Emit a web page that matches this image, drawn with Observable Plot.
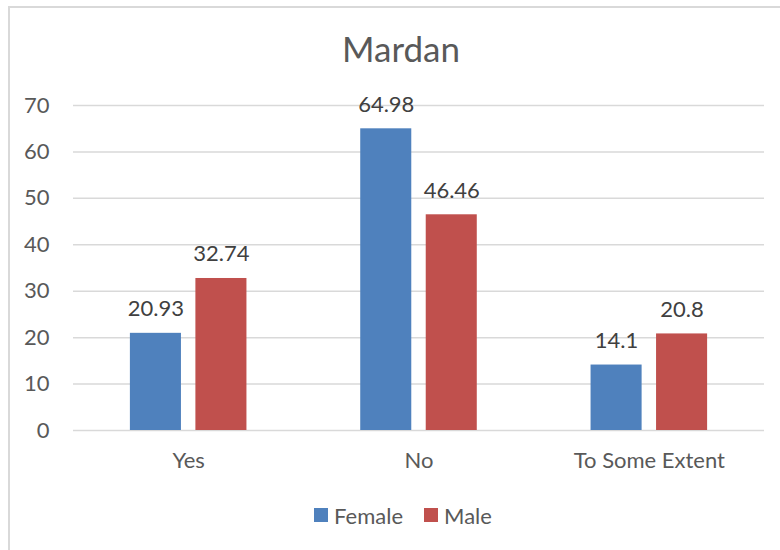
<!DOCTYPE html>
<html><head><meta charset="utf-8">
<script src="https://cdn.jsdelivr.net/npm/d3@7"></script>
<script src="https://cdn.jsdelivr.net/npm/@observablehq/plot@0.6"></script>
<style>
html,body{margin:0;padding:0;background:#fff;overflow:hidden}
#chart{position:relative;width:780px;height:550px;font-family:Lato,sans-serif}
#frame{position:absolute;left:8px;top:6px;width:800px;height:600px;border-left:2px solid #d9d9d9;border-top:2px solid #d9d9d9;pointer-events:none}
#title{height:70px;box-sizing:border-box;padding-top:31px;padding-left:22px;text-align:center;font-size:35px;line-height:35px;color:#595959}
#plot svg{display:block}
#legend{margin-top:10px;height:30px;display:flex;justify-content:center;align-items:center;padding-left:26px;font-size:22px;color:#595959}
.item{display:flex;align-items:center}
.sw{width:14px;height:14px;margin-right:6px}
</style>
</head><body>
<div id="chart">
  <div id="frame"></div>
  <div id="title">Mardan</div>
  <div id="plot"></div>
  <div id="legend"></div>
</div>
<script>
const title = "Mardan";
const categories = ["Yes", "No", "To Some Extent"];
const series = ["Female", "Male"];
const female = [20.93, 64.98, 14.1];
const male = [32.74, 46.46, 20.8];
const colors = ["#4f81bd", "#c0504d"];
const yTicks = [0, 10, 20, 30, 40, 50, 60, 70];

const femaleRows = categories.map((c, i) => ({cat: c, gender: series[0], value: female[i]}));
const maleRows = categories.map((c, i) => ({cat: c, gender: series[1], value: male[i]}));

// group band = 116.5px, each bar 51px, gap 14.5px
const groupInset = 65.5;
const labelShift = 32.75;

const chart = Plot.plot({
  width: 780,
  height: 420,
  marginTop: 35,
  marginBottom: 60,
  marginLeft: 73,
  marginRight: 16,
  style: {fontFamily: "Lato, sans-serif", fontSize: "22px", color: "#595959", background: "transparent"},
  x: {domain: categories, paddingInner: 0.494, paddingOuter: 0.247, round: false, label: null},
  y: {domain: [0, 70], label: null},
  marks: [
    Plot.ruleY(yTicks, {stroke: "#d9d9d9", strokeWidth: 1.5}),
    Plot.barY(femaleRows, {x: "cat", y: "value", fill: colors[0], insetRight: groupInset}),
    Plot.barY(maleRows, {x: "cat", y: "value", fill: colors[1], insetLeft: groupInset}),
    Plot.text(femaleRows, {x: "cat", y: "value", text: d => String(d.value), dx: -labelShift, dy: -17, lineAnchor: "bottom", fill: "#404040", fontSize: 22}),
    Plot.text(maleRows, {x: "cat", y: "value", text: d => String(d.value), dx: labelShift, dy: -17, lineAnchor: "bottom", fill: "#404040", fontSize: 22}),
    Plot.axisY({ticks: yTicks, tickSize: 0, tickPadding: 24, label: null, fontSize: 22}),
    Plot.axisX({anchor: "bottom", tickSize: 0, tickPadding: 22, label: null, fontSize: 22})
  ]
});
document.getElementById("plot").appendChild(chart);

const legend = document.getElementById("legend");
series.forEach((s, i) => {
  const it = document.createElement("div");
  it.className = "item";
  if (i > 0) it.style.marginLeft = "21px";
  const sw = document.createElement("span");
  sw.className = "sw";
  sw.style.background = colors[i];
  const t = document.createElement("span");
  t.textContent = s;
  it.appendChild(sw); it.appendChild(t);
  legend.appendChild(it);
});
</script>
</body></html>
